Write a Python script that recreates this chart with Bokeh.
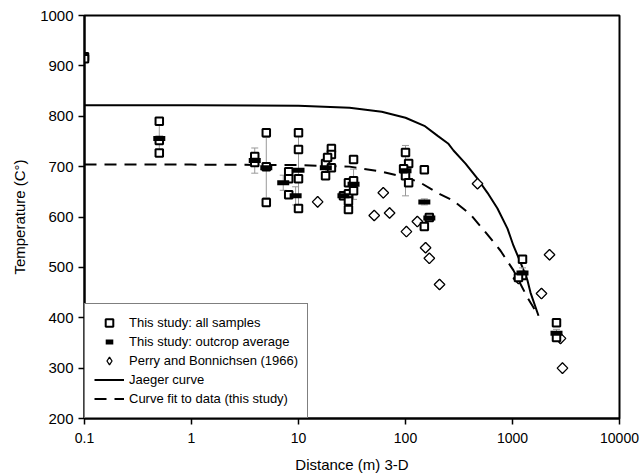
from bokeh.plotting import figure
from bokeh.models import (Range1d, FixedTicker, CustomJSTickFormatter, Legend, LegendItem)
from bokeh.embed import file_html
from bokeh.resources import INLINE
import math

FONT = "Liberation Sans"

# ---- data ----
sample_x = [0.1, 0.1, 0.5, 0.5, 0.5, 3.9, 3.9, 5.0, 5.0, 5.0, 8.1, 8.1, 8.1,
            10, 10, 10, 10, 17.9, 17.9, 20.3, 20.3, 20.3, 18.7, 26.3,
            29.3, 29.3, 29.3, 29.3, 32.7, 32.7, 32.7, 100, 100, 107, 107, 96,
            150, 150, 167, 1240, 1240, 1137, 2577, 2577]
sample_T = [918, 914, 790, 752, 727, 720, 708, 767, 700, 629, 690, 676, 644,
            767, 734, 676, 617, 706, 682, 736, 724, 698, 718, 642,
            668, 646, 632, 615, 714, 672, 652, 728, 682, 706, 668, 696,
            694, 581, 599, 516, 484, 480, 390, 361]

avg_x = [0.5, 3.9, 5.0, 7.2, 10, 9.4, 18, 26.3, 32.7, 100, 150, 167, 1240, 2577]
avg_T = [756, 712, 698, 668, 693, 642, 698, 642, 665, 692, 630, 598, 489, 369]
avg_err = [31, 25, 60, 15, 75, 18, 10, 8, 30, 50, 6, 6, 10, 8]

perry_x = [15.1, 51, 62, 71, 102, 129, 154, 167, 208, 471, 1137, 1866, 2218, 2810, 2931]
perry_T = [630, 603, 648, 608, 571, 591, 539, 518, 466, 666, 478, 448, 525, 359, 300]

jaeger_x = [0.1, 1, 10, 30, 60, 100, 150, 200, 250, 281, 364, 471, 584, 724,
            898, 1021, 1188, 1381, 1473, 1750]
jaeger_T = [822, 822, 821, 817, 809, 797, 781, 761, 746, 732, 706, 676, 648, 617,
            577, 543, 510, 474, 450, 404]

fit_x = [0.1, 1, 10, 30, 60, 100, 138, 212, 281, 405, 584, 773, 1021, 1381, 1750]
fit_T = [704, 704, 703, 700, 690, 679, 668, 645, 632, 605, 565, 533, 494, 440, 404]

x_ticks = [0.1, 1, 10, 100, 1000, 10000]
y_ticks = [200, 300, 400, 500, 600, 700, 800, 900, 1000]

labels = ["This study: all samples", "This study: outcrop average",
          "Perry and Bonnichsen (1966)", "Jaeger curve",
          "Curve fit to data (this study)"]

# ---- figure ----
p = figure(width=644, height=475, x_axis_type="log", output_backend="svg",
           toolbar_location=None,
           x_range=Range1d(0.1, 10000), y_range=Range1d(200, 1000),
           min_border_left=84, min_border_right=25, min_border_top=15,
           min_border_bottom=57)
p.background_fill_color = "white"
p.border_fill_color = "white"
p.outline_line_color = "black"
p.outline_line_width = 2
p.xgrid.visible = False
p.ygrid.visible = False

p.xaxis.ticker = FixedTicker(ticks=x_ticks)
p.xaxis.formatter = CustomJSTickFormatter(code="return String(tick);")
p.yaxis.ticker = FixedTicker(ticks=y_ticks)
for ax in (p.xaxis[0], p.yaxis[0]):
    ax.axis_line_width = 2
    ax.axis_line_color = "black"
    ax.major_tick_line_width = 1.5
    ax.major_tick_in = 0
    ax.major_tick_out = 6
    ax.minor_tick_line_color = None
    ax.major_label_text_font = FONT
    ax.major_label_text_color = "black"
    ax.axis_label_text_font = FONT
    ax.axis_label_text_font_style = "normal"
    ax.axis_label_text_color = "black"
p.xaxis.major_label_text_font_size = "14px"
p.yaxis.major_label_text_font_size = "15px"
p.xaxis.major_label_standoff = 8
p.yaxis.major_label_standoff = 5
p.xaxis.axis_label = "Distance (m) 3-D"
p.yaxis.axis_label = "Temperature (C°)"
p.xaxis.axis_label_text_font_size = "15px"
p.yaxis.axis_label_text_font_size = "15px"
p.xaxis.axis_label_standoff = 10
p.yaxis.axis_label_standoff = 9

# curves
r_jaeger = p.line(jaeger_x, jaeger_T, line_color="black", line_width=2)
r_fit = p.line(fit_x, fit_T, line_color="black", line_width=2, line_dash="12 8")

# error bars for outcrop averages
lo = [t - e for t, e in zip(avg_T, avg_err)]
hi = [t + e for t, e in zip(avg_T, avg_err)]
p.segment(x0=avg_x, y0=lo, x1=avg_x, y1=hi, line_color="#999999", line_width=1)
p.scatter(avg_x + avg_x, lo + hi, marker="dash", size=7, line_color="#999999",
          line_width=1)

# Perry & Bonnichsen diamonds: a diamond glyph (used for the legend) covered
# by squares rotated 45 degrees so the plotted symbols are equilateral
r_perry = p.scatter(perry_x, perry_T, marker="diamond", size=10,
                    fill_color="white", line_color="black", line_width=1.3)
p.scatter(perry_x, perry_T, marker="square", angle=math.pi / 4, size=7.5,
          fill_color="white", line_color="black", line_width=1.3)

# samples
r_samp = p.scatter(sample_x, sample_T, marker="square", size=7.5, fill_color="white",
                   line_color="black", line_width=2)

# outcrop averages (thick bars)
r_avg = p.scatter(avg_x, avg_T, marker="dash", size=12, line_color="black",
                  line_width=5)

legend = Legend(items=[LegendItem(label=labels[0], renderers=[r_samp]),
                       LegendItem(label=labels[1], renderers=[r_avg]),
                       LegendItem(label=labels[2], renderers=[r_perry]),
                       LegendItem(label=labels[3], renderers=[r_jaeger]),
                       LegendItem(label=labels[4], renderers=[r_fit])],
                location=(0, 0), orientation="vertical")
legend.border_line_color = "black"
legend.border_line_width = 1.5
legend.background_fill_alpha = 1
legend.label_text_font = FONT
legend.label_text_font_size = "13px"
legend.label_text_color = "black"
legend.glyph_width = 30
legend.glyph_height = 19
legend.label_height = 19
legend.label_standoff = 5
legend.spacing = 0
legend.padding = 9
legend.margin = 0
p.add_layout(legend, "center")

open("out.html", "w").write(file_html(p, INLINE))
